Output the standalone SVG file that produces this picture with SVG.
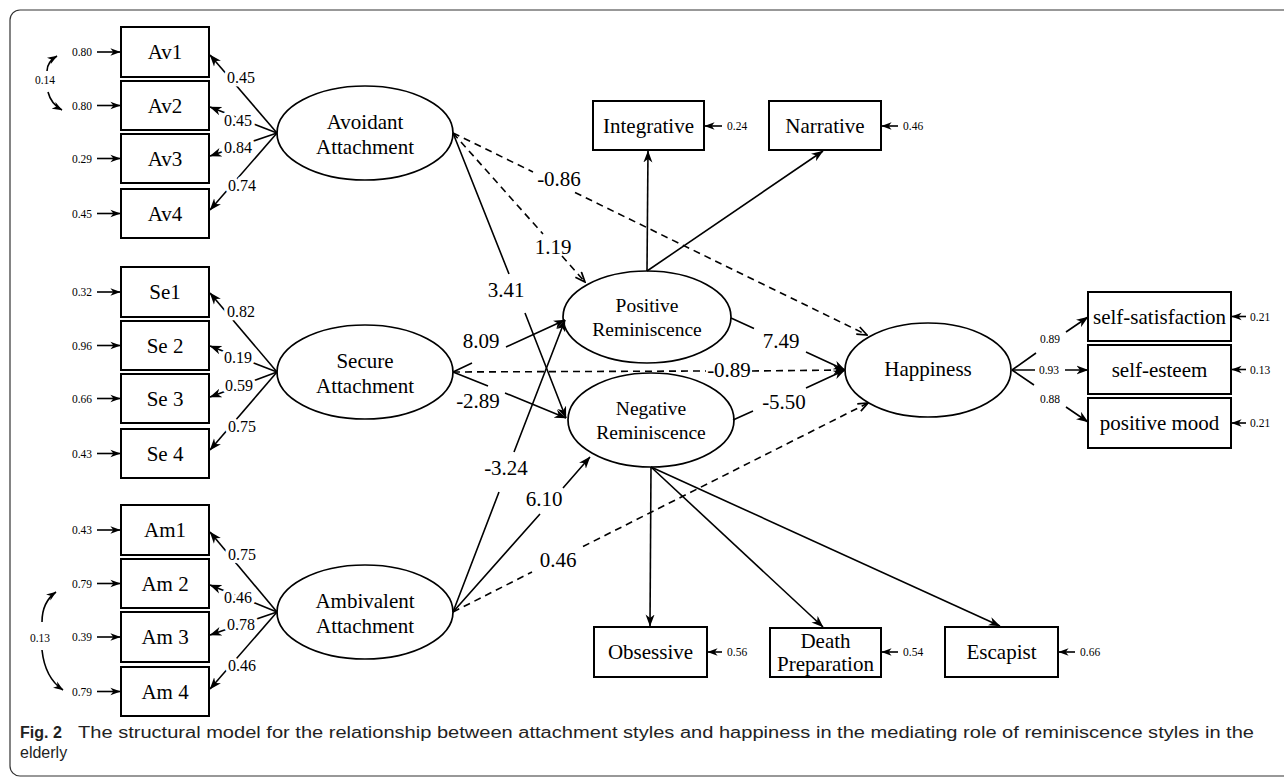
<svg xmlns="http://www.w3.org/2000/svg" width="1284" height="782" viewBox="0 0 1284 782">
<defs>
<style>
.box{fill:#fff;stroke:#000;stroke-width:2}
.lat{fill:#fff;stroke:#000;stroke-width:1.7}
.ln{fill:none;stroke:#000;stroke-width:1.6}
.dash{stroke-dasharray:7 5}
.t21{font-family:"Liberation Serif",serif;font-size:21px;text-anchor:middle;fill:#000}
.t19{font-family:"Liberation Serif",serif;font-size:19.5px;text-anchor:middle;fill:#000}
.t16{font-family:"Liberation Serif",serif;font-size:16px;text-anchor:middle;fill:#000}
.t12{font-family:"Liberation Serif",serif;font-size:11.5px;fill:#000}
.halo{stroke:#fff;stroke-width:7;paint-order:stroke;stroke-linejoin:round}
.cap{font-family:"Liberation Sans",Arial,sans-serif;font-size:16px;fill:#222}
</style>
<marker id="a" viewBox="0 0 12 10" refX="11.5" refY="5" markerWidth="12" markerHeight="10" orient="auto" markerUnits="userSpaceOnUse"><path d="M0,0.5 L12,5 L0,9.5 L3.5,5 z" fill="#000"/></marker>
<marker id="s" viewBox="0 0 12 10" refX="11.5" refY="5" markerWidth="10" markerHeight="8.5" orient="auto" markerUnits="userSpaceOnUse"><path d="M0,0.5 L12,5 L0,9.5 L3.5,5 z" fill="#000"/></marker>
<marker id="o" viewBox="0 0 12 10" refX="11" refY="5" markerWidth="12" markerHeight="10" orient="auto" markerUnits="userSpaceOnUse"><path d="M1,1 L11,5 L1,9" fill="none" stroke="#000" stroke-width="1.7"/></marker>
</defs>
<rect width="1284" height="782" fill="#fff"/>
<rect x="10" y="10" width="1290" height="766" rx="10" fill="none" stroke="#333" stroke-width="1.2"/>

<g id="Av1"><rect class="box" x="121" y="27" width="88" height="50"/><text class="t21" x="165" y="59">Av1</text></g>
<g id="Av2"><rect class="box" x="121" y="81" width="88" height="49"/><text class="t21" x="165" y="112.5">Av2</text></g>
<g id="Av3"><rect class="box" x="121" y="134" width="88" height="49"/><text class="t21" x="165" y="165.5">Av3</text></g>
<g id="Av4"><rect class="box" x="121" y="189" width="88" height="49"/><text class="t21" x="165" y="220.5">Av4</text></g>
<g id="Se1"><rect class="box" x="121" y="267" width="88" height="50"/><text class="t21" x="165" y="299">Se1</text></g>
<g id="Se2"><rect class="box" x="121" y="321" width="88" height="49"/><text class="t21" x="165" y="352.5">Se 2</text></g>
<g id="Se3"><rect class="box" x="121" y="374" width="88" height="49"/><text class="t21" x="165" y="405.5">Se 3</text></g>
<g id="Se4"><rect class="box" x="121" y="429" width="88" height="49"/><text class="t21" x="165" y="460.5">Se 4</text></g>
<g id="Am1"><rect class="box" x="121" y="505" width="88" height="50"/><text class="t21" x="165" y="537">Am1</text></g>
<g id="Am2"><rect class="box" x="121" y="559" width="88" height="49"/><text class="t21" x="165" y="590.5">Am 2</text></g>
<g id="Am3"><rect class="box" x="121" y="612" width="88" height="50"/><text class="t21" x="165" y="644">Am 3</text></g>
<g id="Am4"><rect class="box" x="121" y="667" width="88" height="49"/><text class="t21" x="165" y="698.5">Am 4</text></g>

<g id="Avoidant"><ellipse class="lat" cx="365" cy="133" rx="88" ry="47"/><text class="t21" x="365" y="129">Avoidant</text><text class="t21" x="365" y="154">Attachment</text></g>
<g id="Secure"><ellipse class="lat" cx="365" cy="372" rx="88" ry="47"/><text class="t21" x="365" y="368">Secure</text><text class="t21" x="365" y="393">Attachment</text></g>
<g id="Ambivalent"><ellipse class="lat" cx="365" cy="612" rx="88" ry="47"/><text class="t21" x="365" y="608">Ambivalent</text><text class="t21" x="365" y="633">Attachment</text></g>

<g id="PositiveRem"><ellipse class="lat" cx="647" cy="317" rx="84" ry="46"/><text class="t19" x="647" y="312">Positive</text><text class="t19" x="647" y="336">Reminiscence</text></g>
<g id="NegativeRem"><ellipse class="lat" cx="651" cy="420" rx="83" ry="47"/><text class="t19" x="651" y="415">Negative</text><text class="t19" x="651" y="439">Reminiscence</text></g>
<g id="Happiness"><ellipse class="lat" cx="928" cy="370" rx="83" ry="47"/><text class="t21" x="928" y="376">Happiness</text></g>

<g id="Integrative"><rect class="box" x="593" y="101" width="111" height="49"/><text class="t21" x="648.5" y="133">Integrative</text></g>
<g id="Narrative"><rect class="box" x="769" y="101" width="112" height="49"/><text class="t21" x="825" y="133">Narrative</text></g>
<g id="Obsessive"><rect class="box" x="594" y="627" width="113" height="50"/><text class="t21" x="650.5" y="659">Obsessive</text></g>
<g id="DeathPreparation"><rect class="box" x="770" y="628" width="111" height="49"/><text class="t21" x="825.5" y="648">Death</text><text class="t21" x="825.5" y="671">Preparation</text></g>
<g id="Escapist"><rect class="box" x="945" y="627" width="113" height="50"/><text class="t21" x="1001.5" y="659">Escapist</text></g>

<g id="SelfSatisfaction"><rect class="box" x="1088" y="292" width="143" height="49"/><text class="t21" x="1159.5" y="323.5">self-satisfaction</text></g>
<g id="SelfEsteem"><rect class="box" x="1088" y="345" width="143" height="49"/><text class="t21" x="1159.5" y="376.5">self-esteem</text></g>
<g id="PositiveMood"><rect class="box" x="1088" y="398" width="143" height="50"/><text class="t21" x="1159.5" y="430">positive mood</text></g>

<g id="connectors">
<!-- left error arrows -->
<g class="ln" marker-end="url(#s)">
<path d="M97,52 L120,52"/><path d="M97,105.5 L120,105.5"/><path d="M97,158.5 L120,158.5"/><path d="M97,213.5 L120,213.5"/>
<path d="M97,292 L120,292"/><path d="M97,345.5 L120,345.5"/><path d="M97,398.5 L120,398.5"/><path d="M97,453.5 L120,453.5"/>
<path d="M97,530 L120,530"/><path d="M97,583.5 L120,583.5"/><path d="M97,637 L120,637"/><path d="M97,691.5 L120,691.5"/>
</g>
<g class="t12" text-anchor="end">
<text x="92" y="56">0.80</text><text x="92" y="109.5">0.80</text><text x="92" y="162.5">0.29</text><text x="92" y="217.5">0.45</text>
<text x="92" y="296">0.32</text><text x="92" y="349.5">0.96</text><text x="92" y="402.5">0.66</text><text x="92" y="457.5">0.43</text>
<text x="92" y="534">0.43</text><text x="92" y="587.5">0.79</text><text x="92" y="641">0.39</text><text x="92" y="695.5">0.79</text>
</g>
<!-- covariances -->
<g class="ln" marker-end="url(#s)">
<path d="M47,71 Q47,62 57,56"/><path d="M48,92 Q51,104 62,110"/>
<path d="M42,622 Q42,602 56,592"/><path d="M42,650 Q45,678 63,690"/>
</g>
<text class="t12" x="45" y="84" text-anchor="middle">0.14</text>
<text class="t12" x="40" y="642" text-anchor="middle">0.13</text>

<!-- loadings attachment -->
<g class="ln" marker-end="url(#a)">
<path d="M277,133 L210,55"/><path d="M277,133 L210,107"/><path d="M277,133 L210,156"/><path d="M277,133 L210,210"/>
<path d="M277,372 L210,293"/><path d="M277,372 L210,346"/><path d="M277,372 L210,397"/><path d="M277,372 L210,450"/>
<path d="M277,612 L210,532"/><path d="M277,612 L210,585"/><path d="M277,612 L210,635"/><path d="M277,612 L210,689"/>
</g>
<g class="t16 halo">
<text x="241" y="83">0.45</text><text x="238" y="126">0.45</text><text x="238" y="153">0.84</text><text x="242" y="191">0.74</text>
<text x="241" y="317">0.82</text><text x="238" y="363">0.19</text><text x="239" y="391">0.59</text><text x="242" y="432">0.75</text>
<text x="242" y="560">0.75</text><text x="238" y="603">0.46</text><text x="241" y="630">0.78</text><text x="242" y="671">0.46</text>
</g>

<!-- structural paths -->
<path class="ln dash" d="M453,133 L533,172 M575,192.5 L867,335" marker-end="url(#o)"/>
<path class="ln dash" d="M453,133 L543,234 M562,256 L585,282" marker-end="url(#o)"/>
<path class="ln" d="M453,133 L509,274 M525,313 L566,418" marker-end="url(#a)"/>
<path class="ln" d="M453,372 L472,363 M506,347 L565,320" marker-end="url(#a)"/>
<path class="ln" d="M453,372 L488,386 M505,393 L566,418" marker-end="url(#a)"/>
<path class="ln dash" d="M453,372 L706,371 M752,371 L845,370" marker-end="url(#a)"/>
<path class="ln" d="M453,612 L499,492 M514,452 L565,320" marker-end="url(#a)"/>
<path class="ln" d="M453,612 L540,514 M563,488 L590,457" marker-end="url(#a)"/>
<path class="ln dash" d="M453,612 L532,572 M583,546.5 L868,403" marker-end="url(#o)"/>
<path class="ln" d="M731,318 L754,328.5 M806,352 L845,370" marker-end="url(#a)"/>
<path class="ln" d="M733,420 L753,411 M806,388 L845,370" marker-end="url(#a)"/>
<g class="t21">
<text x="559" y="186">-0.86</text>
<text x="553" y="254">1.19</text>
<text x="506" y="297">3.41</text>
<text x="481" y="348">8.09</text>
<text x="478" y="408">-2.89</text>
<text x="729" y="377">-0.89</text>
<text x="506" y="475">-3.24</text>
<text x="544" y="506">6.10</text>
<text x="558" y="567">0.46</text>
<text x="781" y="348">7.49</text>
<text x="784" y="409">-5.50</text>
</g>

<!-- reminiscence indicators -->
<g class="ln" marker-end="url(#a)">
<path d="M647,271 L648,151"/><path d="M647,271 L823,151"/>
<path d="M651,467 L650,626"/><path d="M651,467 L823,627"/><path d="M651,467 L1000,626"/>
</g>
<g class="ln" marker-end="url(#s)">
<path d="M722,126 L705,126"/><path d="M898,126 L882,126"/>
<path d="M722,652 L708,652"/><path d="M898,652 L882,652"/><path d="M1075,652 L1059,652"/>
<path d="M1246,316.5 L1232,316.5"/><path d="M1246,369.5 L1232,369.5"/><path d="M1246,423 L1232,423"/>
</g>
<g class="t12">
<text x="727" y="130">0.24</text><text x="903" y="130">0.46</text>
<text x="727" y="656">0.56</text><text x="903" y="656">0.54</text><text x="1080" y="656">0.66</text>
<text x="1250" y="320.5">0.21</text><text x="1250" y="373.5">0.13</text><text x="1250" y="427">0.21</text>
</g>

<!-- happiness indicators -->
<g class="ln" marker-end="url(#a)">
<path d="M1012,370 L1036,353 M1066,332 L1088,317"/>
<path d="M1012,370 L1035,370 M1065,370 L1088,370"/>
<path d="M1012,370 L1034,385 M1066,407 L1088,422"/>
</g>
<g class="t12" text-anchor="middle">
<text x="1050" y="343">0.89</text><text x="1049" y="374">0.93</text><text x="1050" y="403">0.88</text>
</g>
</g>

<g id="caption">
<text class="cap" x="20" y="738" font-weight="bold">Fig. 2</text>
<text class="cap" x="78" y="738" textLength="1176" lengthAdjust="spacingAndGlyphs">The structural model for the relationship between attachment styles and happiness in the mediating role of reminiscence styles in the</text>
<text class="cap" x="20" y="758">elderly</text>
</g>
</svg>
